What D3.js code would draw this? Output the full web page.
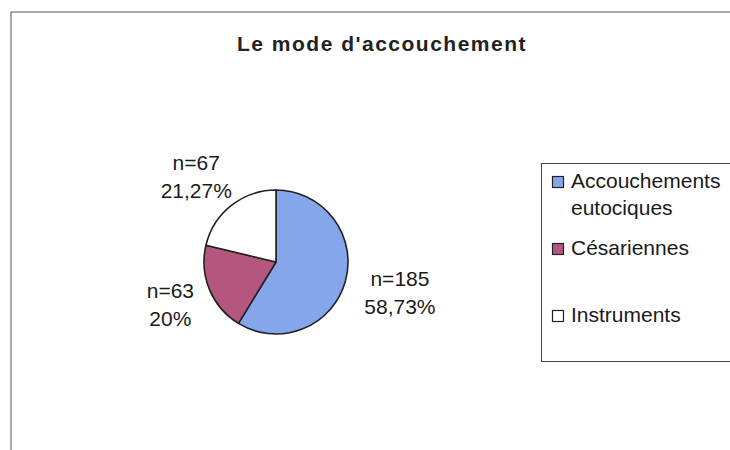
<!DOCTYPE html>
<html>
<head>
<meta charset="utf-8">
<script src="https://cdn.jsdelivr.net/npm/d3@7"></script>
<style>
  body { margin: 0; background: #fff; }
  svg { display: block; font-family: "Liberation Sans", Arial, sans-serif; }
</style>
</head>
<body>
<svg width="730" height="450"></svg>
<script>
// data
var categories = ["Accouchements eutociques", "Césariennes", "Instruments"];
var counts = [185, 63, 67];
var percentLabels = ["58,73%", "20%", "21,27%"];
var legendLines = [["Accouchements", "eutociques"], ["Césariennes"], ["Instruments"]];
var colors = ["#86a6ec", "#b4567e", "#ffffff"];

var svg = d3.select("svg");
var width = +svg.attr("width");
var height = +svg.attr("height");

var cx = 276, cy = 262, radius = 72;

// chart frame (only left and top edges show in the scan)
svg.append("path")
  .attr("d", "M11," + height + "V12H" + width)
  .attr("fill", "none")
  .attr("stroke", "#555")
  .attr("stroke-width", 1);

svg.append("text")
  .text("Le mode d'accouchement")
  .attr("x", 382)
  .attr("y", 51)
  .style("text-anchor", "middle")
  .style("font-size", "21px")
  .style("font-weight", "bold")
  .style("letter-spacing", "1.5px")
  .style("fill", "#222");

var color = d3.scaleOrdinal().domain(categories).range(colors);

var pie = d3.pie().sort(null).value(d => d.count);
var data = categories.map((c, i) => ({ name: c, count: counts[i], pct: percentLabels[i] }));
var arcs = pie(data);

var arc = d3.arc().innerRadius(0).outerRadius(radius);

var g = svg.append("g").attr("transform", "translate(" + cx + "," + cy + ")");

g.selectAll("path")
  .data(arcs)
  .enter()
  .append("path")
    .attr("d", arc)
    .attr("fill", d => color(d.data.name))
    .attr("stroke", "#222")
    .attr("stroke-width", 1.6)
    .attr("stroke-linejoin", "round");

// data labels placed outside each slice, box pushed out along the mid angle
var labelR = 86;
var labels = g.selectAll("g.label")
  .data(arcs)
  .enter()
  .append("g")
    .attr("class", "label");

labels.each(function(d) {
  var a = (d.startAngle + d.endAngle) / 2;
  var dx = Math.sin(a), dy = -Math.cos(a);
  var sel = d3.select(this);
  var lines = ["n=" + d.data.count, d.data.pct];
  var t = sel.selectAll("text")
    .data(lines)
    .enter()
    .append("text")
      .text(s => s)
      .attr("y", (s, i) => i === 0 ? -6 : 22)
      .style("text-anchor", "middle")
      .style("font-size", "21px")
      .style("fill", "#1a1a1a");
  var w = d3.max(t.nodes(), n => n.getComputedTextLength());
  var h = 46;
  var lx = labelR * dx + dx * w * 0.6;
  var ly = labelR * dy + dy * h / 2;
  sel.attr("transform", "translate(" + lx + "," + ly + ")");
});

// legend
var legend = svg.append("g");
legend.append("rect")
  .attr("x", 541.5)
  .attr("y", 163.5)
  .attr("width", 220)
  .attr("height", 198)
  .attr("fill", "none")
  .attr("stroke", "#444")
  .attr("stroke-width", 1);

var itemY = d3.scalePoint().domain(categories).range([188, 322]);

var items = legend.selectAll("g.item")
  .data(categories)
  .enter()
  .append("g")
    .attr("class", "item")
    .attr("transform", d => "translate(0," + itemY(d) + ")");

items.append("rect")
  .attr("x", 552.5)
  .attr("y", -11.5)
  .attr("width", 11)
  .attr("height", 11)
  .attr("fill", d => color(d))
  .attr("stroke", "#222")
  .attr("stroke-width", 1.2);

items.each(function(d, i) {
  d3.select(this).selectAll("text")
    .data(legendLines[i])
    .enter()
    .append("text")
      .text(s => s)
      .attr("x", 571)
      .attr("y", (s, j) => j * 27)
      .style("font-size", "21px")
      .style("fill", "#1a1a1a");
});
</script>
</body>
</html>
